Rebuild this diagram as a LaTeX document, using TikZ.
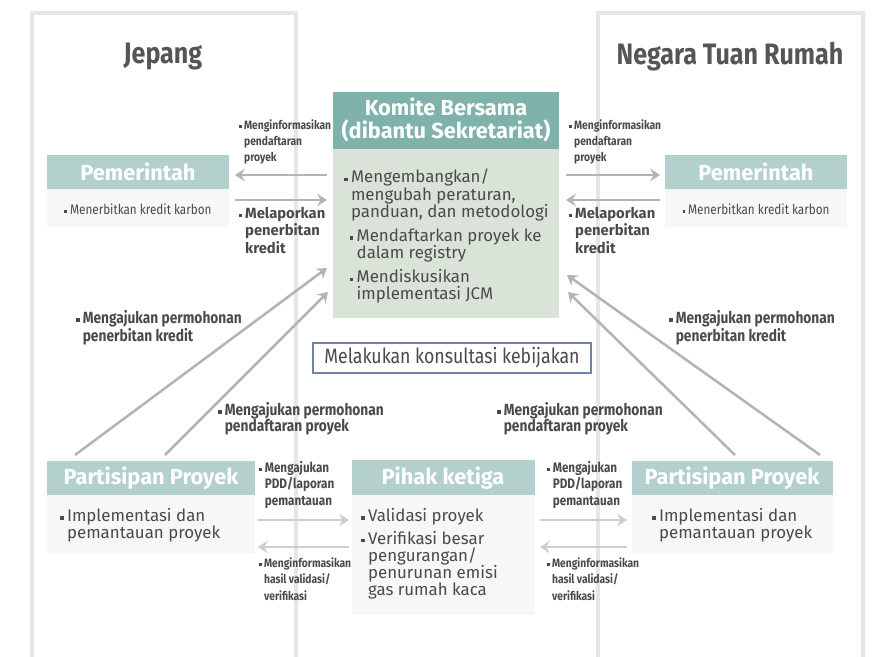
\documentclass[tikz,border=0pt]{standalone}
\usepackage{fontspec}
\setmainfont{Fira Sans}
\newfontfamily\condfont[FakeStretch=0.85]{Fira Sans}
\usepackage{xcolor}
\usetikzlibrary{arrows, arrows.meta}
\definecolor{panelgray}{HTML}{E6E6E6}
\definecolor{titlegray}{HTML}{555555}
\definecolor{txtgray}{HTML}{4A4A4A}
\definecolor{komhdr}{HTML}{7FB2AB}
\definecolor{kombody}{HTML}{DAE3D8}
\definecolor{hdrteal}{HTML}{B3D0CD}
\definecolor{boxbg}{HTML}{F7F7F7}
\definecolor{arrgray}{HTML}{B4B4B4}
\definecolor{arrlight}{HTML}{CDCDCD}
\definecolor{konsblue}{HTML}{7382A8}
\newcommand{\sq}{\rule[0.2ex]{0.38ex}{0.38ex}\hspace{0.2em}}
\newcommand{\ind}{\hphantom{\sq}}

\begin{document}
\begin{tikzpicture}[x=0.025cm,y=-0.025cm,
  panel/.style={draw=panelgray,line width=2.2pt},
  title/.style={text=titlegray,font=\condfont\bfseries\fontsize{21}{24}\selectfont},
  hdr/.style={text=white,font=\bfseries\fontsize{15.5}{16.4}\selectfont,align=center},
  body/.style={text=txtgray,font=\fontsize{12}{12.2}\selectfont,align=left,anchor=north west,inner sep=0pt},
  small/.style={text=txtgray,font=\condfont\fontsize{9.8}{11}\selectfont},
  lbl/.style={text=txtgray,font=\condfont\bfseries\fontsize{8.6}{11.4}\selectfont,align=left,anchor=north west,inner sep=0pt},
  lblbig/.style={text=txtgray,font=\bfseries\fontsize{10.5}{12.4}\selectfont,align=left,anchor=north west,inner sep=0pt},
  lblmid/.style={lbl,font=\condfont\bfseries\fontsize{11.5}{11.7}\selectfont},
  lblbot/.style={lbl,font=\condfont\bfseries\fontsize{9.8}{11.6}\selectfont},
  lbltiny/.style={lbl,font=\condfont\bfseries\fontsize{8.6}{12}\selectfont},
  arr/.style={draw=arrgray,line width=1.8pt,-{Stealth[length=7pt,width=9pt,inset=2.5pt]}},
  arrl/.style={arr,draw=arrlight}]
\useasboundingbox (0,0) rectangle (877,657);
% panels
\draw[panel] (32,657) -- (32,13) -- (296,13) -- (296,657);
\draw[panel] (598,657) -- (598,13) -- (863,13) -- (863,657);
\node[title] (jp) at (163,57) {Jepang};
\node[title] (ntr) at (730,57) {Negara Tuan Rumah};
% komite bersama
\fill[komhdr] (333,92) rectangle (559,149);
\fill[kombody] (333,149) rectangle (559,318);
\node[hdr] (kom) at (446,120) {Komite Bersama\\(dibantu Sekretariat)};
\node[body] (komtxt) at (344,169) {\sq Mengembangkan/\\\ind mengubah peraturan,\\\ind panduan, dan metodologi\\[5pt]
  \hspace*{4pt}\sq Mendaftarkan proyek ke\\\hspace*{4pt}\ind dalam registry\\[5pt]
  \hspace*{4pt}\sq Mendiskusikan\\\hspace*{4pt}\ind implementasi JCM};
% pemerintah
\fill[hdrteal] (47,155) rectangle (229,189);
\fill[boxbg] (47,189) rectangle (229,227);
\node[hdr] (pemL) at (138,172) {Pemerintah};
\node[small] (pemLtxt) at (138,209) {\sq Menerbitkan kredit karbon};
\fill[hdrteal] (665,155) rectangle (847,189);
\fill[boxbg] (665,189) rectangle (847,227);
\node[hdr] (pemR) at (756,172) {Pemerintah};
\node[small] (pemRtxt) at (756,209) {\sq Menerbitkan kredit karbon};
\node[draw=konsblue,line width=1.4pt,fill=white,minimum width=198pt,minimum height=21pt,
  text=txtgray,font=\condfont\fontsize{14.8}{16}\selectfont] (kons) at (452,358) {Melakukan konsultasi kebijakan};
% bawah
\fill[hdrteal] (47,461) rectangle (255,495);
\fill[boxbg] (47,495) rectangle (255,553);
\node[hdr] (ppL) at (151,478) {Partisipan Proyek};
\node[body] (ppLtxt) at (60,508) {\sq Implementasi dan\\\ind pemantauan proyek};
\fill[hdrteal] (352,460) rectangle (535,495);
\fill[boxbg] (352,495) rectangle (535,615);
\node[hdr] (tpk) at (443,478) {Pihak ketiga};
\node[body] (tpktxt) at (361,508) {\sq Validasi proyek\\[4pt]\sq Verifikasi besar\\\ind pengurangan/\\\ind penurunan emisi\\\ind gas rumah kaca};
\fill[hdrteal] (632,461) rectangle (833,495);
\fill[boxbg] (632,495) rectangle (833,553);
\node[hdr] (ppR) at (732,478) {Partisipan Proyek};
\node[body] (ppRtxt) at (652,508) {\sq Implementasi dan\\\ind pemantauan proyek};
% ujung panah
\coordinate (kL1) at (327,175); \coordinate (pL1) at (235,175);
\coordinate (pL2) at (235,200); \coordinate (kL2) at (327,200);
\coordinate (kR1) at (566,175); \coordinate (pR1) at (660,175);
\coordinate (pR2) at (660,200); \coordinate (kR2) at (566,200);
\coordinate (dL1) at (75,455);  \coordinate (kL3) at (327,268);
\coordinate (dL2) at (165,455); \coordinate (kL4) at (328,292);
\coordinate (dR1) at (820,455); \coordinate (kR3) at (567,275);
\coordinate (dR2) at (735,455); \coordinate (kR4) at (568,292);
\coordinate (bL1) at (258,520); \coordinate (bM1) at (349,520);
\coordinate (bM2) at (349,547); \coordinate (bL2) at (258,547);
\coordinate (bM3) at (540,520); \coordinate (bR1) at (627,520);
\coordinate (bR2) at (627,547); \coordinate (bM4) at (540,547);
\draw[arr] (kL1) -- (pL1);
\draw[arr] (pL2) -- (kL2);
\draw[arr] (kR1) -- (pR1);
\draw[arr] (pR2) -- (kR2);
\draw[arr] (dL1) -- (kL3);
\draw[arr] (dL2) -- (kL4);
\draw[arr] (dR1) -- (kR3);
\draw[arr] (dR2) -- (kR4);
\draw[arrl] (bL1) -- (bM1);
\draw[arrl] (bM2) -- (bL2);
\draw[arrl] (bM3) -- (bR1);
\draw[arrl] (bR2) -- (bM4);
% label
\node[lbl] (tl1) at (239,119) {\sq Menginformasikan\\\ind pendaftaran\\\ind proyek};
\node[lblbig] (tl2) at (239,207) {\sq Melaporkan\\\ind penerbitan\\\ind kredit};
\node[lbl] (tr1) at (569,119) {\sq Menginformasikan\\\ind pendaftaran\\\ind proyek};
\node[lblbig] (tr2) at (569,207) {\sq Melaporkan\\\ind penerbitan\\\ind kredit};
\node[lblmid] (ml1) at (76,310) {\sq Mengajukan permohonan\\\ind penerbitan kredit};
\node[lblmid] (ml2) at (218,402) {\sq Mengajukan permohonan\\\ind pendaftaran proyek};
\node[lblmid] (mr2) at (497,402) {\sq Mengajukan permohonan\\\ind pendaftaran proyek};
\node[lblmid] (mr1) at (669,310) {\sq Mengajukan permohonan\\\ind penerbitan kredit};
\node[lblbot] (bl1) at (259,461) {\sq Mengajukan\\\ind PDD/laporan\\\ind pemantauan};
\node[lbltiny] (bl2) at (259,557) {\sq Menginformasikan\\\ind hasil validasi/\\\ind verifikasi};
\node[lblbot] (br1) at (547,461) {\sq Mengajukan\\\ind PDD/laporan\\\ind pemantauan};
\node[lbltiny] (br2) at (547,557) {\sq Menginformasikan\\\ind hasil validasi/\\\ind verifikasi};
\end{tikzpicture}
\end{document}
